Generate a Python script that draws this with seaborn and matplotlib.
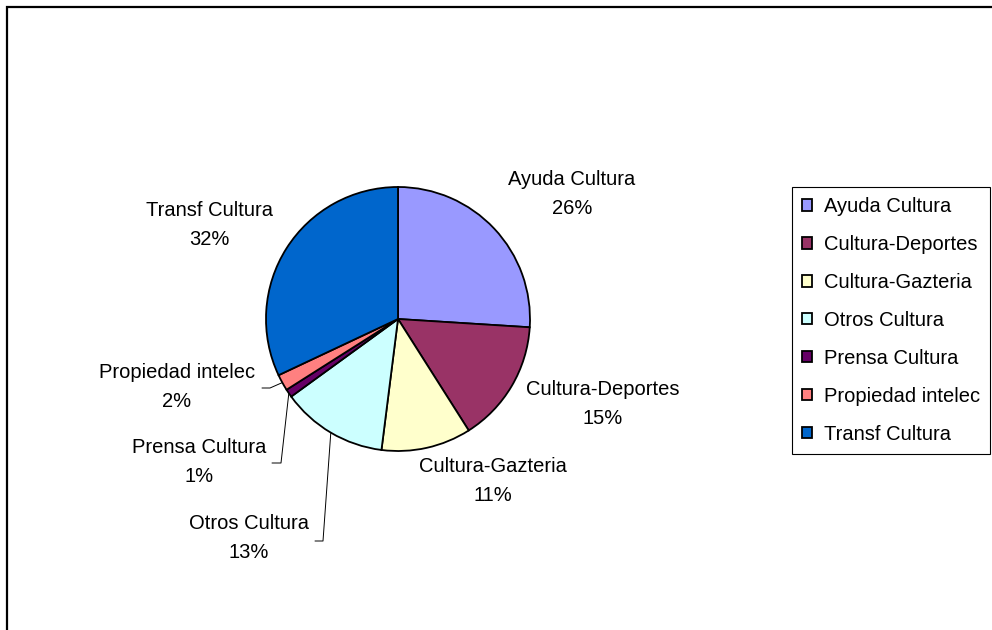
import numpy as np
import seaborn as sns
from matplotlib import pyplot as plt
from matplotlib.patches import Rectangle

sns.set_style("white")
plt.rcParams["font.family"] = ["Liberation Sans", "DejaVu Sans"]
plt.rcParams["text.color"] = "black"

categories = ["Ayuda Cultura", "Cultura-Deportes", "Cultura-Gazteria", "Otros Cultura",
              "Prensa Cultura", "Propiedad intelec", "Transf Cultura"]
values = [26, 15, 11, 13, 1, 2, 32]
colors = sns.color_palette(["#9999FF", "#993366", "#FFFFCC", "#CCFFFF",
                            "#660066", "#FF8080", "#0066CC"])

# layout in pixels (figure is 992x630)
W, H = 992, 630
cx, cy, R = 398, 319, 132
label_pos = [(572, 194), (603, 404), (493, 481), (249, 538), (199, 462), (177, 387), (209, 225)]
# leader lines: (elbow, end) for the small slices
leaders = {3: [(323, 541), (315, 541)], 4: [(281, 463), (272, 463)], 5: [(270, 388), (262, 388)]}


def to_data(p):
  return ((p[0] - cx) / R, (cy - p[1]) / R)


fig = plt.figure(figsize=(W / 100, H / 100), dpi=100)
ax = fig.add_axes([0, 0, 1, 1])

wedges, _ = ax.pie(values, colors=colors, startangle=90, counterclock=False,
                   wedgeprops=dict(edgecolor="black", linewidth=1.3))
ax.set_xlim(-cx / R, (W - cx) / R)
ax.set_ylim(-(H - cy) / R, cy / R)
ax.set_aspect("equal")
ax.axis("off")

total = sum(values)
for i, (name, v) in enumerate(zip(categories, values)):
  x, y = to_data(label_pos[i])
  ax.text(x, y, f"{name}\n{v / total:.0%}", ha="center", va="center",
          fontsize=14.5, linespacing=1.7, color="black")
  if i in leaders:
    w = wedges[i]
    mid = np.deg2rad((w.theta1 + w.theta2) / 2)
    pts = [(np.cos(mid), np.sin(mid))] + [to_data(p) for p in leaders[i]]
    xs, ys = zip(*pts)
    ax.plot(xs, ys, color="black", lw=0.7)

leg = fig.legend(wedges, categories, loc="upper left",
                 bbox_to_anchor=(792 / W, 1 - 187 / H), fontsize=14.5,
                 frameon=True, fancybox=False, edgecolor="black", framealpha=1,
                 handlelength=0.5, handleheight=0.5, handletextpad=0.6,
                 labelspacing=0.94, borderpad=0.5, borderaxespad=0)
leg.get_frame().set_linewidth(0.8)

# chart area border (cut at right/bottom edges)
fig.add_artist(Rectangle((7 / W, -0.1), 1.2, 1.1 - 7 / H, transform=fig.transFigure,
                         fill=False, edgecolor="black", lw=1.6, clip_on=False))

plt.savefig("out.png", dpi=100)
